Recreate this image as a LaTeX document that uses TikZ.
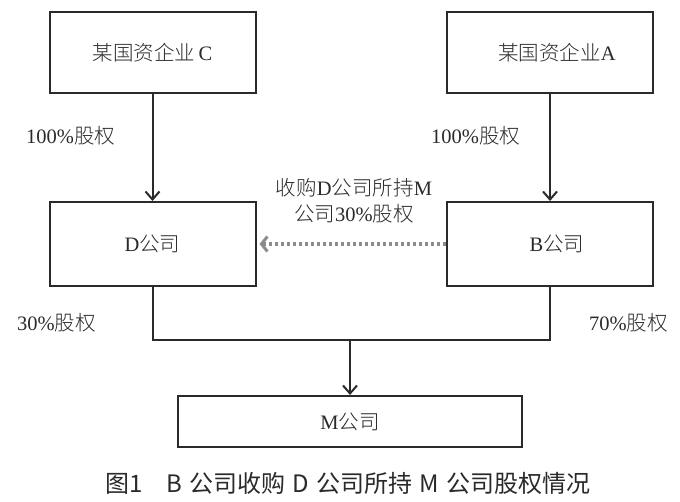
\documentclass[tikz,border=0pt]{standalone}
\usepackage{fontspec}
\setmainfont{Liberation Serif}
\newfontfamily\cjk{Noto Sans CJK SC}
\newfontfamily\cjklight{Noto Sans CJK SC Light}
\usetikzlibrary{arrows.meta}
\definecolor{ink}{HTML}{2A2A2A}
\definecolor{dotgray}{HTML}{8C8C8C}
\newcommand{\zh}[1]{{\cjklight #1}}
\begin{document}
\begin{tikzpicture}[x=1pt,y=-1pt,
  box/.style={draw=ink,line width=2pt,rectangle,minimum width=206pt,inner sep=0pt,font=\fontsize{20.5}{24}\selectfont,text=ink},
  lbl/.style={inner sep=0pt,font=\fontsize{20.5}{26}\selectfont,text=ink},
  arr/.style={draw=ink,line width=2pt,-{Straight Barb[length=8pt,width=14pt,line width=2pt]}},
  conn/.style={draw=ink,line width=2pt},
  dotarr/.style={draw=dotgray,line width=3.5pt,dash pattern=on 3.5pt off 2.5pt,-{Straight Barb[length=6pt,width=15pt,line width=3pt]}}
]
\useasboundingbox (0,0) rectangle (680,502);
\fill[white] (0,0) rectangle (680,502);
\node[box,minimum height=81pt] (C) at (152.5,52.5) {\zh{某国资企业}\,C};
\node[box,minimum height=81pt] (A) at (550,52.5) {\hspace{14pt}\zh{某国资企业}A};
\node[box,minimum height=84pt] (D) at (152.5,244) {D\zh{公司}};
\node[box,minimum height=84pt] (B) at (550,244) {\hspace{14pt}B\zh{公司}};
\node[box,minimum width=344pt,minimum height=51pt] (M) at (350,421.5) {M\zh{公司}};
\node[lbl,anchor=west] (l1) at (26,136) {100\%\zh{股权}};
\node[lbl,anchor=west] (l2) at (431,136) {100\%\zh{股权}};
\node[lbl,anchor=west] (l3) at (17,323) {30\%\zh{股权}};
\node[lbl,anchor=west] (l4) at (589,323) {70\%\zh{股权}};
\node[lbl,align=center] (lt) at (354,201) {\zh{收购}D\zh{公司所持}M\\\zh{公司}30\%\zh{股权}};
\draw[arr] (C) -- (D);
\draw[arr] (A) -- (B);
\coordinate (jl) at (152.5,340);
\coordinate (jr) at (550,340);
\coordinate (J) at (350,340);
\draw[conn] (D.south) -- (jl) -- (jr) -- (B.south);
\draw[arr] (J) -- (M.north);
\draw[dotarr] (B.west) -- ([xshift=3pt]D.east);
\node[inner sep=0pt,font=\cjk\fontsize{24}{28}\selectfont,text=ink] (cap) at (348,483) {图1\hspace{1em}B\hspace{0.3em}公司收购\hspace{0.3em}D\hspace{0.3em}公司所持\hspace{0.3em}M\hspace{0.3em}公司股权情况};
\end{tikzpicture}
\end{document}
